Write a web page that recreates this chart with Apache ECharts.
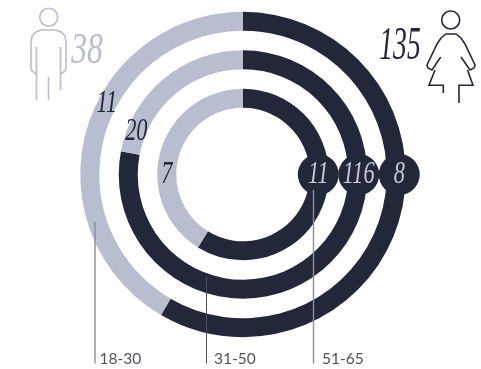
<!DOCTYPE html>
<html><head><meta charset="utf-8">
<style>html,body{margin:0;padding:0;background:#fff}#c{width:481px;height:369px}</style>
<script src="https://cdn.jsdelivr.net/npm/echarts@6/dist/echarts.min.js"></script>
</head><body><div id="c"></div>
<script>
const ageGroups = ['51-65', '31-50', '18-30'];            // inner to outer ring
const darkShare = [58.8, 78, 58.4];                       // arc length of the dark part, %
const lightShare = [41.2, 22, 41.6];                      // arc length of the light part
const darkLabels = ['11', '116', '8'];
const lightLabels = ['7', '20', '11'];
const lightLabelAngle = [75, 81, 82.6];
const badgeAngle = 25;
const menTotal = '38';
const womenTotal = '135';

const DARK = '#23273a', LIGHT = '#b9bdd0';
const SERIF = '"Liberation Serif","DejaVu Serif",serif';
const chart = echarts.init(document.getElementById('c'), null, {renderer: 'canvas'});

const line = (x, top, bottom, color, w) => ({type: 'line', silent: true, z: 20,
  shape: {x1: x, y1: top, x2: x, y2: bottom}, style: {stroke: color, lineWidth: w}});
const cap = (x, text) => ({type: 'text', z: 20, x, y: 358.5, style: {text, fill: '#50525f',
  font: '400 15.5px Lato, "Open Sans", sans-serif', verticalAlign: 'middle', align: 'left'}});
const big = (x, y, text, fill, size, sx) => ({type: 'text', z: 20, x, y, scaleX: sx, style: {text, fill,
  font: 'italic 400 ' + size + 'px ' + SERIF, align: 'center', verticalAlign: 'middle'}});
const stroke = (points, color) => ({type: 'polyline', z: 20, silent: true, shape: {points},
  style: {fill: 'none', stroke: color, lineWidth: 1.6}});

const italicText = (x, y, text, fill) => ({type: 'text', x, y, scaleX: 0.72,
  style: {text, fill, font: 'italic 400 31px ' + SERIF, align: 'center', verticalAlign: 'middle'}});
const badgeShift = [-1, 1, 3];

chart.setOption({
  animation: false,
  polar: {center: [243, 174.5], radius: [57, 172.5]},
  angleAxis: {type: 'value', min: 0, max: 100, startAngle: 90, clockwise: true,
    axisLine: {show: false}, axisTick: {show: false}, axisLabel: {show: false}, splitLine: {show: false}},
  radiusAxis: {type: 'category', data: ageGroups,
    axisLine: {show: false}, axisTick: {show: false}, axisLabel: {show: false}, splitLine: {show: false}},
  series: [
    {type: 'bar', coordinateSystem: 'polar', stack: 'r', barWidth: 19, data: darkShare,
      itemStyle: {color: DARK}, z: 2},
    {type: 'bar', coordinateSystem: 'polar', stack: 'r', barWidth: 19, data: lightShare,
      itemStyle: {color: LIGHT}, z: 2},
    {type: 'custom', coordinateSystem: 'polar', z: 3,
      data: ageGroups.map(g => [g, badgeAngle]),
      encode: {radius: 0, angle: 1},
      renderItem: (params, api) => {
        const p = api.coord([api.value(0), api.value(1)]);
        const x = p[0] + badgeShift[params.dataIndex], y = p[1];
        return {type: 'group', children: [
          {type: 'circle', shape: {cx: x, cy: y, r: 20.5}, style: {fill: DARK}},
          italicText(x, y, darkLabels[params.dataIndex], '#c6c9da')
        ]};
      }},
    {type: 'custom', coordinateSystem: 'polar', z: 4,
      data: ageGroups.map((g, i) => [g, lightLabelAngle[i]]),
      encode: {radius: 0, angle: 1},
      renderItem: (params, api) => {
        const p = api.coord([api.value(0), api.value(1)]);
        return italicText(p[0], p[1], lightLabels[params.dataIndex], DARK);
      }}
  ],
  graphic: [
    line(95, 222, 363.5, '#8a8c9c', 1.4),
    line(206.5, 276, 363.5, '#4a4d5c', 1),
    line(313.5, 190, 363.5, '#8a8c9c', 1.4),
    cap(99.5, '18-30'), cap(214, '31-50'), cap(322, '51-65'),
    big(87, 51, menTotal, LIGHT, 44, 0.72),
    big(400, 47, womenTotal, DARK, 46, 0.6),
    {type: 'circle', z: 20, shape: {cx: 48.7, cy: 17.3, r: 9}, style: {fill: 'none', stroke: LIGHT, lineWidth: 1.6}},
    {type: 'circle', z: 20, shape: {cx: 450.7, cy: 20, r: 9}, style: {fill: 'none', stroke: DARK, lineWidth: 1.6}},
    stroke([[36,74],[32,71],[31,68],[31,42],[32,36],[36,32],[41,30],[56,30],[61,32],[65,36],[66,42],[66,68],[65,71],[61,74]], LIGHT),
    stroke([[36.5,47],[36.5,100]], LIGHT),
    stroke([[60.5,47],[60.5,90]], LIGHT),
    stroke([[48.5,77],[48.5,100]], LIGHT),
    stroke([[440.7,57],[432,70],[428,68],[427,65],[437,44],[441,38],[446,34],[456,34],[461,38],[465,44],[475,65],[474,68],[470,70],[461,57]], DARK),
    stroke([[435,70],[429,85.3],[443.3,85.3],[443.3,93]], DARK),
    stroke([[467.5,70],[473,85.3],[459,85.3],[459,103]], DARK)
  ]
});
</script></body></html>
